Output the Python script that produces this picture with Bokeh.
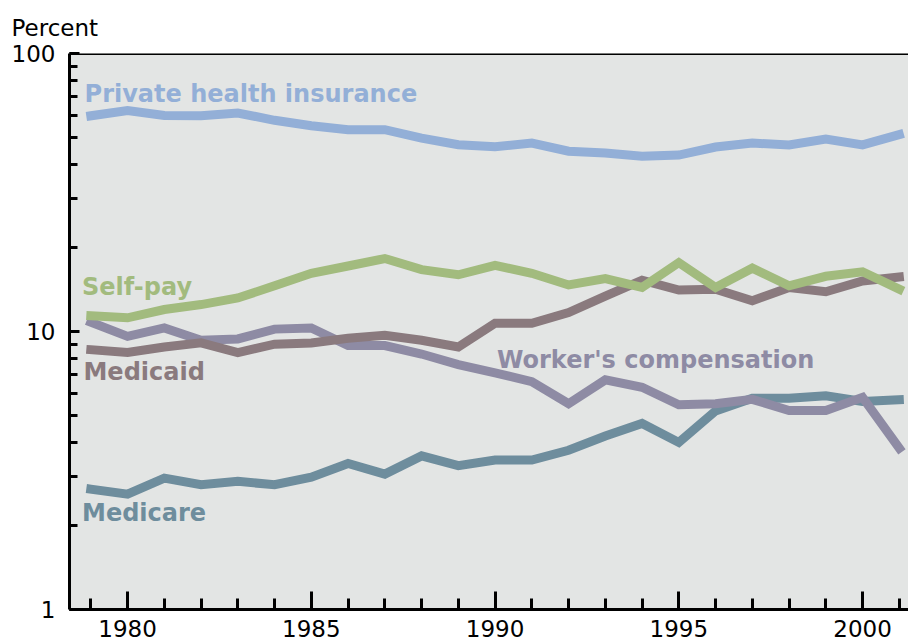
from bokeh.plotting import figure
from bokeh.models import (Range1d, SingleIntervalTicker, LogTicker, Label, Span,
                          ColumnDataSource)
from bokeh.embed import file_html
from bokeh.resources import INLINE

years = list(range(1979, 2002))

private = [59.7, 62.4, 59.8, 59.7, 61.1, 57.5, 55.0, 53.2, 53.2, 49.6, 47.0, 46.2,
           47.6, 44.5, 43.9, 42.7, 43.1, 46.1, 47.6, 46.9, 49.2, 46.9, 51.1]
self_pay = [11.4, 11.2, 12.0, 12.5, 13.2, 14.6, 16.2, 17.2, 18.3, 16.7, 16.0, 17.3,
            16.2, 14.7, 15.5, 14.4, 17.7, 14.4, 16.9, 14.6, 15.8, 16.4, 14.2]
medicaid = [8.6, 8.4, 8.8, 9.1, 8.4, 9.0, 9.1, 9.45, 9.7, 9.3, 8.8, 10.7,
            10.7, 11.7, 13.4, 15.3, 14.1, 14.2, 12.9, 14.4, 13.9, 15.2, 15.7]
workers = [10.8, 9.6, 10.3, 9.3, 9.4, 10.2, 10.3, 8.9, 8.9, 8.3, 7.6, 7.1,
           6.6, 5.5, 6.7, 6.3, 5.45, 5.5, 5.7, 5.2, 5.2, 5.8, 3.8]
medicare = [2.71, 2.60, 2.97, 2.81, 2.89, 2.81, 2.99, 3.35, 3.07, 3.57, 3.29, 3.45,
            3.45, 3.74, 4.21, 4.67, 3.99, 5.18, 5.75, 5.75, 5.87, 5.60, 5.68]

series_names = ["Private health insurance", "Medicare", "Worker's compensation",
                "Medicaid", "Self-pay"]
series_values = [private, medicare, workers, medicaid, self_pay]
series_colors = ["#93afd7", "#6e8d9d", "#8e8ba4", "#8a7a7e", "#a2bb7e"]
# label anchor positions (year, percent) for each series label
label_pos = {
    "Private health insurance": (1978.83, 71.5),
    "Self-pay": (1978.76, 14.4),
    "Medicaid": (1978.80, 7.14),
    "Worker's compensation": (1990.05, 7.9),
    "Medicare": (1978.76, 2.215),
}

p = figure(width=908, height=642, y_axis_type="log",
           x_range=Range1d(1978.42, 2001.25), y_range=Range1d(1, 100),
           output_backend="svg", toolbar_location=None,
           min_border_left=69, min_border_top=52, min_border_right=0,
           min_border_bottom=33,
           title="Percent")
p.title.align = "left"
p.title.offset = -58
p.title.text_font = "DejaVu Sans"
p.title.text_font_style = "normal"
p.title.text_font_size = "23px"
p.title.text_color = "black"
p.title.standoff = 25
p.background_fill_color = "#e3e5e4"
p.border_fill_color = "white"
p.outline_line_color = None
p.xgrid.visible = False
p.ygrid.visible = False

for name, vals, col in zip(series_names, series_values, series_colors):
    src = ColumnDataSource(dict(x=years, y=vals))
    p.line("x", "y", source=src, line_color=col, line_width=9,
           line_cap="square", line_join="miter")
    lx, ly = label_pos[name]
    p.add_layout(Label(x=lx, y=ly, text=name, text_color=col,
                       text_font="DejaVu Sans", text_font_style="bold",
                       text_font_size="24px", text_baseline="alphabetic"))

p.add_layout(Span(location=100, dimension="width", line_color="black", line_width=3))

xa = p.xaxis[0]
xa.ticker = SingleIntervalTicker(interval=5, num_minor_ticks=5)
xa.axis_line_width = 3
xa.major_tick_line_width = 3
xa.minor_tick_line_width = 3
xa.major_tick_in = 18
xa.major_tick_out = 0
xa.minor_tick_in = 11
xa.minor_tick_out = 0
xa.major_label_text_font = "DejaVu Sans"
xa.major_label_text_font_size = "23px"
xa.major_label_text_color = "black"
xa.major_label_standoff = 10

ya = p.yaxis[0]
ya.ticker = LogTicker(num_minor_ticks=10)
ya.axis_line_width = 3
ya.major_tick_line_width = 3
ya.minor_tick_line_width = 3
ya.major_tick_in = 10
ya.major_tick_out = 0
ya.minor_tick_in = 8
ya.minor_tick_out = 0
ya.major_label_text_font = "DejaVu Sans"
ya.major_label_text_font_size = "23px"
ya.major_label_text_color = "black"
ya.major_label_standoff = 14
ya.major_label_overrides = {1: "1", 10: "10", 100: "100"}

open("out.html", "w").write(file_html(p, INLINE))
